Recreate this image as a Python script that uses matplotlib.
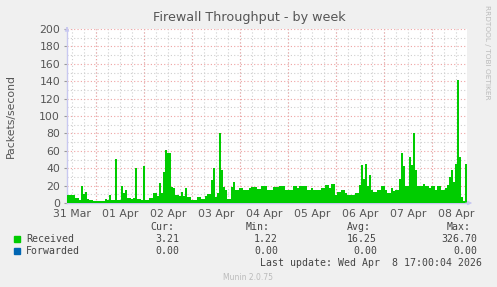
import matplotlib
matplotlib.use("Agg")
import matplotlib.pyplot as plt
import matplotlib.dates as mdates
from matplotlib.patches import Rectangle
import numpy as np
import pandas as pd

# ---- data ----
start_time = "2026-03-31 09:30"
end_time = "2026-04-08 17:30"
received = [
    9, 9, 9, 9, 6, 6, 3, 19, 10, 13,
    5, 3, 3, 2, 2, 2, 2, 2, 2, 5,
    3, 9, 3, 3, 50, 4, 4, 20, 12, 15,
    6, 6, 5, 6, 40, 5, 5, 4, 42, 3,
    3, 6, 6, 12, 12, 8, 23, 11, 36, 61,
    58, 58, 18, 17, 9, 9, 8, 13, 8, 17,
    7, 7, 4, 4, 4, 7, 7, 5, 5, 8,
    10, 10, 26, 40, 7, 12, 80, 38, 18, 15,
    5, 5, 18, 24, 15, 15, 17, 17, 15, 15,
    15, 17, 18, 18, 18, 16, 16, 19, 19, 19,
    15, 15, 15, 18, 18, 18, 20, 20, 19, 15,
    15, 15, 15, 20, 20, 17, 19, 19, 19, 19,
    15, 15, 17, 15, 15, 15, 15, 17, 17, 21,
    21, 17, 22, 22, 9, 13, 13, 15, 15, 11,
    9, 9, 9, 9, 11, 11, 21, 44, 28, 45,
    20, 32, 15, 13, 13, 15, 15, 19, 19, 15,
    12, 12, 17, 14, 15, 15, 28, 57, 42, 19,
    19, 53, 44, 80, 38, 20, 19, 19, 22, 19,
    19, 17, 19, 19, 15, 19, 19, 15, 15, 17,
    21, 30, 38, 24, 45, 141, 53, 7, 2, 45,
]
forwarded = [0] * len(received)

series_names = ["Received", "Forwarded"]
series_colors = ["#00CC00", "#0066B3"]
stat_headers = ["Cur:", "Min:", "Avg:", "Max:"]
stats_received = ["3.21", "1.22", "16.25", "326.70"]
stats_forwarded = ["0.00", "0.00", "0.00", "0.00"]

title = "Firewall Throughput - by week"
ylabel = "Packets/second"
last_update = "Last update: Wed Apr  8 17:00:04 2026"
footer = "Munin 2.0.75"
side_text = "RRDTOOL / TOBI OETIKER"

# ---- figure ----
W, H = 497, 287
fig = plt.figure(figsize=(W / 100, H / 100), dpi=100, facecolor="#F0F0F0")

def fx(px):
    return px / W

def fy(py):
    return 1 - py / H

ax = fig.add_axes([fx(67), fy(203), fx(467) - fx(67), fy(29) - fy(203)])
ax.set_facecolor("white")

times = pd.date_range(start_time, periods=len(received), freq="h")
edges = pd.date_range(start_time, periods=len(received) + 1, freq="h")
rec = np.array(received, dtype=float)
fwd = np.array(forwarded, dtype=float)
rec_e = np.append(rec, rec[-1])
fwd_e = np.append(fwd, fwd[-1])
ax.fill_between(edges, 0, rec_e, step="post", color=series_colors[0], lw=0, zorder=3)
ax.fill_between(edges, rec_e, rec_e + fwd_e, step="post", color=series_colors[1], lw=0, zorder=3)

ax.set_xlim(pd.Timestamp(start_time), pd.Timestamp(end_time))
ax.set_ylim(0, 200)

grey = "#CFCFCF"
red = "#EFA3A3"
dots = (0, (1, 2))

# y grid
ax.set_yticks(np.arange(0, 201, 20))
ax.set_yticks(np.arange(0, 201, 10), minor=True)
ax.yaxis.grid(True, which="minor", color=grey, linestyle=dots, lw=0.8, zorder=1)
ax.yaxis.grid(True, which="major", color=red, linestyle=dots, lw=0.8, zorder=2)

# x grid: labels at noon, grey every 6h, red at midnight
ax.xaxis.set_major_locator(mdates.HourLocator(byhour=[12]))
ax.xaxis.set_major_formatter(mdates.DateFormatter("%d %b"))
ax.xaxis.set_minor_locator(mdates.HourLocator(byhour=[0, 6, 18]))
ax.xaxis.grid(True, which="both", color=grey, linestyle=dots, lw=0.8, zorder=1)
for d in pd.date_range("2026-04-01", "2026-04-08", freq="D"):
    ax.axvline(d, color=red, linestyle=dots, lw=0.8, zorder=2)

ax.set_axisbelow(True)
for s in ["top", "right"]:
    ax.spines[s].set_visible(False)
for s in ["left", "bottom"]:
    ax.spines[s].set_color("#C8C8F0")
    ax.spines[s].set_linewidth(1.0)

ax.tick_params(axis="both", which="both", length=0, colors="#555555", labelsize=7.8)
ax.tick_params(axis="y", which="major", length=2, color="#999999", pad=3)
ax.tick_params(axis="x", which="major", pad=4)

# axis arrows
ax.annotate("", xy=(0, 1.03), xytext=(0, 0.99), xycoords="axes fraction",
            arrowprops=dict(arrowstyle="-|>", color="#C8C8F0", lw=0.8, mutation_scale=6))
ax.annotate("", xy=(1.02, 0), xytext=(0.99, 0), xycoords="axes fraction",
            arrowprops=dict(arrowstyle="-|>", color="#C8C8F0", lw=0.8, mutation_scale=6))

# texts
fig.text(fx(249), fy(18), title, ha="center", va="center", fontsize=9.2, color="#555555")
fig.text(fx(11), fy(116), ylabel, ha="center", va="center", rotation=90, fontsize=7.8, color="#555555")
fig.text(fx(487), fy(5), side_text, ha="center", va="top", rotation=270, fontsize=5.3, color="#BBBBBB")

mono = dict(family="DejaVu Sans Mono", fontsize=7.1, color="#444444", va="center")
header_x = [150, 246, 347, 447]
value_right = [179, 278, 377, 477]
for hx, h in zip(header_x, stat_headers):
    fig.text(fx(hx), fy(227), h, ha="left", **mono)
rows = [stats_received, stats_forwarded]
row_y = [239, 251]
for name, col, vals, y in zip(series_names, series_colors, rows, row_y):
    fig.patches.append(Rectangle((fx(14), fy(y + 3)), fx(6), fy(0) - fy(6),
                                 transform=fig.transFigure, color=col, figure=fig))
    fig.text(fx(26), fy(y), name, ha="left", **mono)
    for xr, v in zip(value_right, vals):
        fig.text(fx(xr), fy(y), v, ha="right", **mono)
fig.text(fx(482), fy(263), last_update, ha="right", **mono)
fig.text(fx(248), fy(278), footer, ha="center", va="center", fontsize=5.5, color="#BBBBBB")

fig.savefig("out.png", dpi=100, facecolor=fig.get_facecolor())
